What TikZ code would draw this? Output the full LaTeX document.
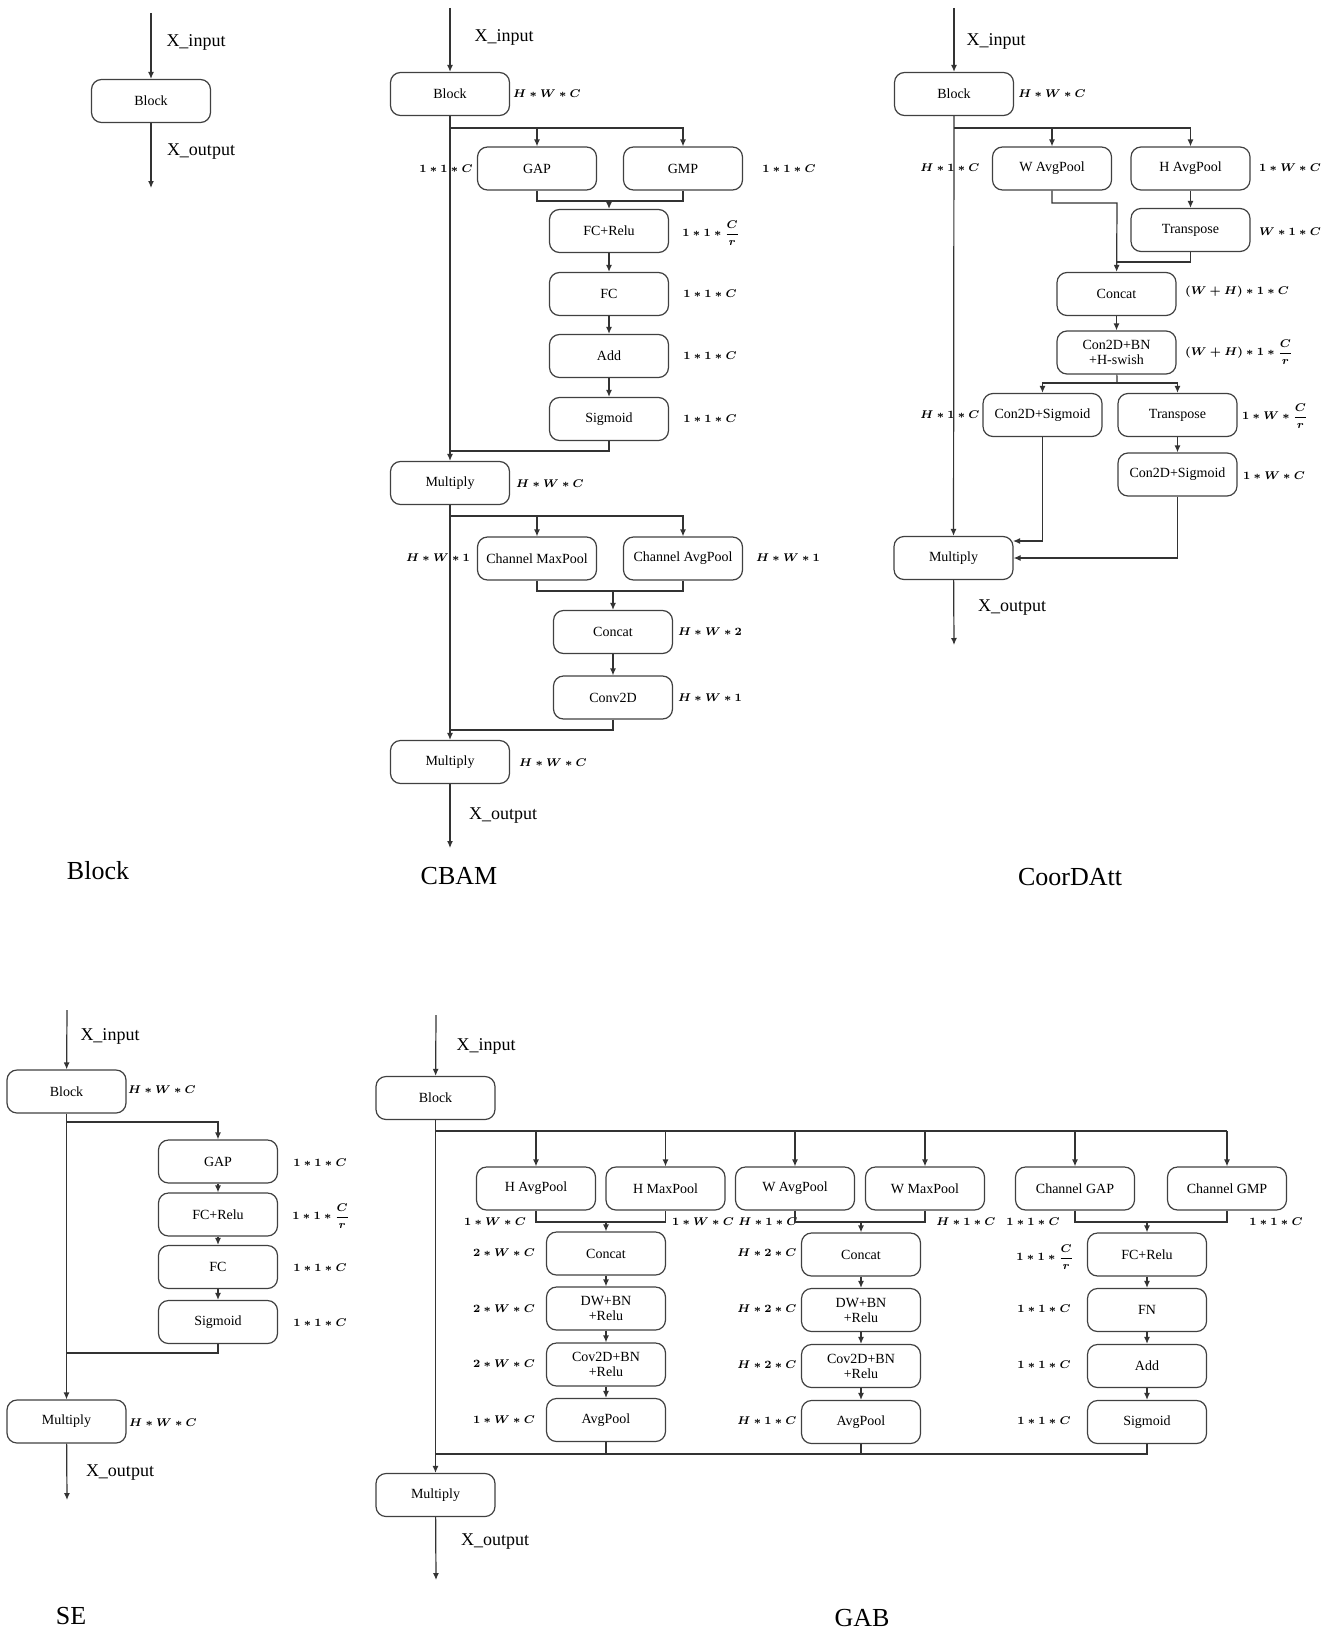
\documentclass[tikz,border=0pt]{standalone}
\usepackage{fontspec}
\setmainfont{Liberation Serif}
\usetikzlibrary{arrows.meta}
\newcommand{\Cfrac}{{\displaystyle\frac{C}{r}}}

\begin{document}
\begin{tikzpicture}
  [x=0.5pt, y=-0.5pt,
  every node/.style={inner sep=0pt},
  box/.style={draw=black!75, line width=0.6pt, rounded corners=5pt, minimum width=59.5pt,
    minimum height=21.5pt, align=center, font=\fontsize{7}{7.5}\selectfont},
  dim/.style={font=\fontsize{7.5}{8}\selectfont\boldmath, scale=0.8},
  io/.style={font=\fontsize{9}{10}\selectfont},
  title/.style={font=\fontsize{13}{14}\selectfont},
  wire/.style={draw=black!80, line width=0.6pt},
  flow/.style={wire, -{Latex[length=3.5pt,width=3pt]}},
  ]
  \useasboundingbox (0,0) rectangle (1325,1632);

  % Block
  \node[box] (b-blk) at (151,101) {Block};
  \coordinate (b-in) at (151,13);
  \coordinate (b-out) at (151,188);
  \draw[flow] (b-in) -- (b-blk);
  \draw[flow] (b-blk) -- (b-out);
  \node[io] (b-xin) at (196,42) {X\_input};
  \node[io] (b-xout) at (201,152) {X\_output};
  \node[title] (b-title) at (98,871) {Block};

  % CBAM
  \node[box] (cb-blk) at (450,94) {Block};
  \node[box] (cb-gap) at (537,168.5) {GAP};
  \node[box] (cb-gmp) at (683,168.5) {GMP};
  \node[box] (cb-fc1) at (609,231) {FC+Relu};
  \node[box] (cb-fc2) at (609,294) {FC};
  \node[box] (cb-add) at (609,356) {Add};
  \node[box] (cb-sig) at (609,419) {Sigmoid};
  \node[box] (cb-mul1) at (450,483) {Multiply};
  \node[box] (cb-cmp) at (537,558.5) {Channel MaxPool};
  \node[box] (cb-cap) at (683,558.5) {Channel AvgPool};
  \node[box] (cb-cat) at (613,632) {Concat};
  \node[box] (cb-conv) at (613,697.5) {Conv2D};
  \node[box] (cb-mul2) at (450,762) {Multiply};
  \node[dim] (cb-d1) at (547,94) {$H\ast W\ast C$};
  \node[dim] (cb-d2) at (446,169) {$1\ast1\ast C$};
  \node[dim] (cb-d3) at (789,169) {$1\ast1\ast C$};
  \node[dim] (cb-d4) at (711,233) {$1\ast1\ast\Cfrac$};
  \node[dim] (cb-d5) at (710,294) {$1\ast1\ast C$};
  \node[dim] (cb-d6) at (710,356) {$1\ast1\ast C$};
  \node[dim] (cb-d7) at (710,419) {$1\ast1\ast C$};
  \node[dim] (cb-d8) at (550,484) {$H\ast W\ast C$};
  \node[dim] (cb-d9) at (438,558) {$H\ast W\ast 1$};
  \node[dim] (cb-d10) at (788,558) {$H\ast W\ast 1$};
  \node[dim] (cb-d11) at (710,632) {$H\ast W\ast 2$};
  \node[dim] (cb-d12) at (710,698) {$H\ast W\ast 1$};
  \node[dim] (cb-d13) at (553,763) {$H\ast W\ast C$};
  \node[io] (cb-xin) at (504,37) {X\_input};
  \node[io] (cb-xout) at (503,816) {X\_output};
  \node[title] (cb-title) at (459,876) {CBAM};
  \coordinate (cb-in) at (450,8);
  \coordinate (cb-out) at (450,848);
  \coordinate (cb-s1) at (450,128);
  \coordinate (cb-m1) at (609,201);
  \coordinate (cb-j1) at (450,451);
  \coordinate (cb-s2) at (450,516);
  \coordinate (cb-m2) at (613,591);
  \coordinate (cb-j2) at (450,730);
  \draw[flow] (cb-in) -- (cb-blk);
  \draw[flow] (cb-blk) -- (cb-mul1);
  \draw[flow] (cb-s1) -| (cb-gap);
  \draw[flow] (cb-s1) -| (cb-gmp);
  \draw[wire] (cb-gap) |- (cb-m1) -| (cb-gmp);
  \draw[flow] (cb-m1) -- (cb-fc1);
  \foreach \a/\b in {cb-fc1/cb-fc2, cb-fc2/cb-add, cb-add/cb-sig}
    \draw[flow] (\a) -- (\b);
  \draw[wire] (cb-sig) |- (cb-j1);
  \draw[flow] (cb-mul1) -- (cb-mul2);
  \draw[flow] (cb-s2) -| (cb-cmp);
  \draw[flow] (cb-s2) -| (cb-cap);
  \draw[wire] (cb-cmp) |- (cb-m2) -| (cb-cap);
  \draw[flow] (cb-m2) -- (cb-cat);
  \draw[flow] (cb-cat) -- (cb-conv);
  \draw[wire] (cb-conv) |- (cb-j2);
  \draw[flow] (cb-mul2) -- (cb-out);

  % CoorDAtt
  \node[box] (ca-blk) at (954,94) {Block};
  \node[box] (ca-wap) at (1052,168.5) {W AvgPool};
  \node[box] (ca-hap) at (1190.5,168.5) {H AvgPool};
  \node[box] (ca-tr1) at (1190.5,230) {Transpose};
  \node[box] (ca-cat) at (1116.5,294) {Concat};
  \node[box] (ca-cbn) at (1116.5,352.5) {Con2D+BN\\+H-swish};
  \node[box] (ca-cs1) at (1042.5,415) {Con2D+Sigmoid};
  \node[box] (ca-tr2) at (1177.5,415) {Transpose};
  \node[box] (ca-cs2) at (1177.5,474.5) {Con2D+Sigmoid};
  \node[box] (ca-mul) at (953.5,558) {Multiply};
  \node[dim] (ca-d1) at (1052,94) {$H\ast W\ast C$};
  \node[dim] (ca-d2) at (950,168) {$H\ast 1\ast C$};
  \node[dim] (ca-d3) at (1290,168) {$1\ast W\ast C$};
  \node[dim] (ca-d4) at (1290,232) {$W\ast 1\ast C$};
  \node[dim] (ca-d5) at (1237,292) {$(W+H)\ast 1\ast C$};
  \node[dim] (ca-d6) at (1239,352) {$(W+H)\ast 1\ast\Cfrac$};
  \node[dim] (ca-d7) at (950,415) {$H\ast 1\ast C$};
  \node[dim] (ca-d8) at (1275,416) {$1\ast W\ast\Cfrac$};
  \node[dim] (ca-d9) at (1274,476) {$1\ast W\ast C$};
  \node[io] (ca-xin) at (996,41) {X\_input};
  \node[io] (ca-xout) at (1012,608) {X\_output};
  \node[title] (ca-title) at (1070,877) {CoorDAtt};
  \coordinate (ca-in) at (954,8);
  \coordinate (ca-out) at (954,645);
  \coordinate (ca-s1) at (954,128);
  \coordinate (ca-m1) at (1117,203);
  \coordinate (ca-m2) at (1117,262);
  \coordinate (ca-s2) at (1117,383);
  \coordinate (ca-j1) at (1013,541);
  \draw[flow] (ca-in) -- (ca-blk);
  \draw[flow] (ca-blk) -- (ca-mul);
  \draw[flow] (ca-s1) -| (ca-wap);
  \draw[flow] (ca-s1) -| (ca-hap);
  \draw[flow] (ca-hap) -- (ca-tr1);
  \draw[flow] (ca-wap) |- (ca-m1) -- (ca-cat);
  \draw[wire] (ca-tr1) |- (ca-m2);
  \draw[flow] (ca-cat) -- (ca-cbn);
  \draw[wire] (ca-cbn) -- (ca-s2);
  \draw[flow] (ca-s2) -| (ca-cs1);
  \draw[flow] (ca-s2) -| (ca-tr2);
  \draw[flow] (ca-tr2) -- (ca-cs2);
  \draw[flow] (ca-cs1) |- (ca-j1);
  \draw[flow] (ca-cs2) |- (ca-mul);
  \draw[flow] (ca-mul) -- (ca-out);

  % SE
  \node[box] (se-blk) at (66.5,1091.5) {Block};
  \node[box] (se-gap) at (218,1161.5) {GAP};
  \node[box] (se-fc1) at (218,1214.5) {FC+Relu};
  \node[box] (se-fc2) at (218,1267) {FC};
  \node[box] (se-sig) at (218,1322) {Sigmoid};
  \node[box] (se-mul) at (66.5,1421.5) {Multiply};
  \node[dim] (se-d1) at (162,1090) {$H\ast W\ast C$};
  \node[dim] (se-d2) at (320,1163) {$1\ast1\ast C$};
  \node[dim] (se-d3) at (321,1216) {$1\ast1\ast\Cfrac$};
  \node[dim] (se-d4) at (320,1268) {$1\ast1\ast C$};
  \node[dim] (se-d5) at (320,1323) {$1\ast1\ast C$};
  \node[dim] (se-d6) at (163,1423) {$H\ast W\ast C$};
  \node[io] (se-xin) at (110,1036) {X\_input};
  \node[io] (se-xout) at (120,1473) {X\_output};
  \node[title] (se-title) at (71,1616) {SE};
  \coordinate (se-in) at (67,1010);
  \coordinate (se-out) at (67,1500);
  \coordinate (se-s1) at (67,1122);
  \coordinate (se-j1) at (67,1353);
  \draw[flow] (se-in) -- (se-blk);
  \draw[flow] (se-blk) -- (se-mul);
  \draw[flow] (se-s1) -| (se-gap);
  \foreach \a/\b in {se-gap/se-fc1, se-fc1/se-fc2, se-fc2/se-sig}
    \draw[flow] (\a) -- (\b);
  \draw[wire] (se-sig) |- (se-j1);
  \draw[flow] (se-mul) -- (se-out);

  % GAB
  \node[box] (g-blk) at (435.5,1098) {Block};
  \node[box] (g-hap) at (536,1188.5) {H AvgPool};
  \node[box] (g-hmp) at (665.5,1188.5) {H MaxPool};
  \node[box] (g-wap) at (795,1188.5) {W AvgPool};
  \node[box] (g-wmp) at (925,1188.5) {W MaxPool};
  \node[box] (g-cgap) at (1075,1188.5) {Channel GAP};
  \node[box] (g-cgmp) at (1227,1188.5) {Channel GMP};
  \node[box] (g-cat1) at (606,1253.5) {Concat};
  \node[box] (g-dw1) at (606,1308.5) {DW+BN\\+Relu};
  \node[box] (g-cv1) at (606,1364.5) {Cov2D+BN\\+Relu};
  \node[box] (g-ap1) at (606,1420) {AvgPool};
  \node[box] (g-cat2) at (861,1254.5) {Concat};
  \node[box] (g-dw2) at (861,1310) {DW+BN\\+Relu};
  \node[box] (g-cv2) at (861,1366) {Cov2D+BN\\+Relu};
  \node[box] (g-ap2) at (861,1422) {AvgPool};
  \node[box] (g-fc) at (1147,1254.5) {FC+Relu};
  \node[box] (g-fn) at (1147,1310) {FN};
  \node[box] (g-add) at (1147,1366) {Add};
  \node[box] (g-sig) at (1147,1422) {Sigmoid};
  \node[box] (g-mul) at (435.5,1495) {Multiply};
  \node[dim] (g-d1) at (495,1222) {$1\ast W\ast C$};
  \node[dim] (g-d2) at (703,1222) {$1\ast W\ast C$};
  \node[dim] (g-d3) at (768,1222) {$H\ast 1\ast C$};
  \node[dim] (g-d4) at (966,1222) {$H\ast 1\ast C$};
  \node[dim] (g-d5) at (1033,1222) {$1\ast 1\ast C$};
  \node[dim] (g-d6) at (1276,1222) {$1\ast 1\ast C$};
  \node[dim] (g-d7) at (504,1253) {$2\ast W\ast C$};
  \node[dim] (g-d8) at (504,1309) {$2\ast W\ast C$};
  \node[dim] (g-d9) at (504,1364) {$2\ast W\ast C$};
  \node[dim] (g-d10) at (504,1420) {$1\ast W\ast C$};
  \node[dim] (g-d11) at (767,1253) {$H\ast 2\ast C$};
  \node[dim] (g-d12) at (767,1309) {$H\ast 2\ast C$};
  \node[dim] (g-d13) at (767,1365) {$H\ast 2\ast C$};
  \node[dim] (g-d14) at (767,1421) {$H\ast 1\ast C$};
  \node[dim] (g-d15) at (1045,1257) {$1\ast 1\ast\Cfrac$};
  \node[dim] (g-d16) at (1044,1309) {$1\ast 1\ast C$};
  \node[dim] (g-d17) at (1044,1365) {$1\ast 1\ast C$};
  \node[dim] (g-d18) at (1044,1421) {$1\ast 1\ast C$};
  \node[io] (g-xin) at (486,1046) {X\_input};
  \node[io] (g-xout) at (495,1542) {X\_output};
  \node[title] (g-title) at (862,1618) {GAB};
  \coordinate (g-in) at (436,1015);
  \coordinate (g-out) at (436,1580);
  \coordinate (g-s1) at (436,1131);
  \coordinate (g-m1) at (606,1222);
  \coordinate (g-m2) at (861,1222);
  \coordinate (g-m3) at (1147,1222);
  \coordinate (g-j1) at (436,1454);
  \draw[flow] (g-in) -- (g-blk);
  \draw[flow] (g-blk) -- (g-mul);
  \draw[wire] (g-s1) -- (g-cgmp |- g-s1);
  \foreach \n in {g-hap, g-hmp, g-wap, g-wmp, g-cgap, g-cgmp}
    \draw[flow] (\n |- g-s1) -- (\n);
  \draw[wire] (g-hap) |- (g-m1) -| (g-hmp);
  \draw[wire] (g-wap) |- (g-m2) -| (g-wmp);
  \draw[wire] (g-cgap) |- (g-m3) -| (g-cgmp);
  \draw[flow] (g-m1) -- (g-cat1);
  \draw[flow] (g-m2) -- (g-cat2);
  \draw[flow] (g-m3) -- (g-fc);
  \foreach \a/\b in {g-cat1/g-dw1, g-dw1/g-cv1, g-cv1/g-ap1, g-cat2/g-dw2, g-dw2/g-cv2,
    g-cv2/g-ap2, g-fc/g-fn, g-fn/g-add, g-add/g-sig}
    \draw[flow] (\a) -- (\b);
  \draw[wire] (g-sig) |- (g-j1);
  \draw[wire] (g-ap1) -- (g-ap1 |- g-j1);
  \draw[wire] (g-ap2) -- (g-ap2 |- g-j1);
  \draw[flow] (g-mul) -- (g-out);
\end{tikzpicture}
\end{document}
